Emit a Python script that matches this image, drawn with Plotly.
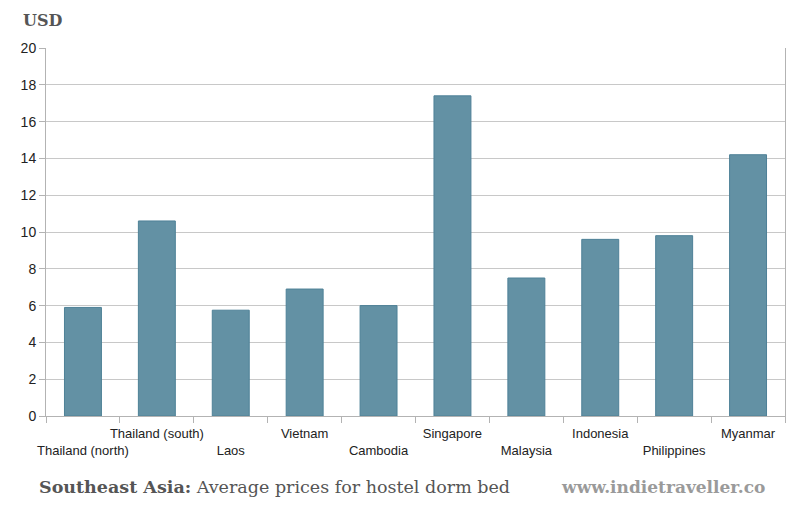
import plotly.graph_objects as go

countries = ["Thailand (north)", "Thailand (south)", "Laos", "Vietnam", "Cambodia",
             "Singapore", "Malaysia", "Indonesia", "Philippines", "Myanmar"]
prices = [5.9, 10.6, 5.75, 6.9, 6.0, 17.4, 7.5, 9.6, 9.8, 14.2]
y_ticks = [0, 2, 4, 6, 8, 10, 12, 14, 16, 18, 20]

# staggered labels: every other one drops to a second row
tick_text = [("<br>" + c) if i % 2 == 0 else c for i, c in enumerate(countries)]

# page body has an 8px margin, so the figure is drawn 8px smaller and offset
OFF = 8
W, H = 800 - OFF, 509 - OFF
L, R, T, B = 46 - OFF, 15, 48 - OFF, 93
pw = W - L - R
ph = H - T - B

def px_x(x):
    return (x - OFF - L) / pw

def px_y(y):
    return (H - B - (y - OFF)) / ph

fig = go.Figure(go.Bar(
    x=countries, y=prices,
    marker=dict(color="#6391a4", line=dict(color="#4e8197", width=1)),
    width=0.5,
))

fig.update_layout(
    width=W, height=H,
    margin=dict(l=L, r=R, t=T, b=B, autoexpand=False),
    plot_bgcolor="white", paper_bgcolor="white",
    showlegend=False,
    font=dict(family="Liberation Sans, Arial, sans-serif", size=13, color="#222"),
)

fig.update_xaxes(
    tickmode="array", tickvals=countries, ticktext=tick_text,
    tickson="boundaries", ticks="outside", ticklen=6, tickcolor="#b3b3b3",
    showline=True, linecolor="#b3b3b3", linewidth=1,
    showgrid=False, tickangle=0, automargin=False, ticklabelstandoff=5,
    tickfont=dict(size=13, color="#222"),
)
fig.update_yaxes(
    range=[0, 20], tickvals=y_ticks,
    ticks="outside", ticklen=6, tickcolor="#b3b3b3",
    showline=True, linecolor="#b3b3b3", linewidth=1, mirror=True,
    showgrid=True, gridcolor="#c8c8c8", gridwidth=1.3,
    zeroline=False, automargin=False,
    tickfont=dict(size=14, color="#222"),
)

fig.add_annotation(
    text="<b>USD</b>", xref="paper", yref="paper",
    x=px_x(21), y=px_y(21), xanchor="left", yanchor="middle",
    showarrow=False, font=dict(family="DejaVu Serif", size=16, color="#555"),
)
fig.add_annotation(
    text="<b>Southeast Asia:</b> Average prices for hostel dorm bed",
    xref="paper", yref="paper",
    x=px_x(37), y=px_y(487), xanchor="left", yanchor="middle",
    showarrow=False, font=dict(family="DejaVu Serif", size=17.5, color="#555"),
)
fig.add_annotation(
    text="<b>www.indietraveller.co</b>", xref="paper", yref="paper",
    x=px_x(767), y=px_y(487), xanchor="right", yanchor="middle",
    showarrow=False, font=dict(family="DejaVu Serif", size=17, color="#9a9a9a"),
)

fig.write_html("out.html")
